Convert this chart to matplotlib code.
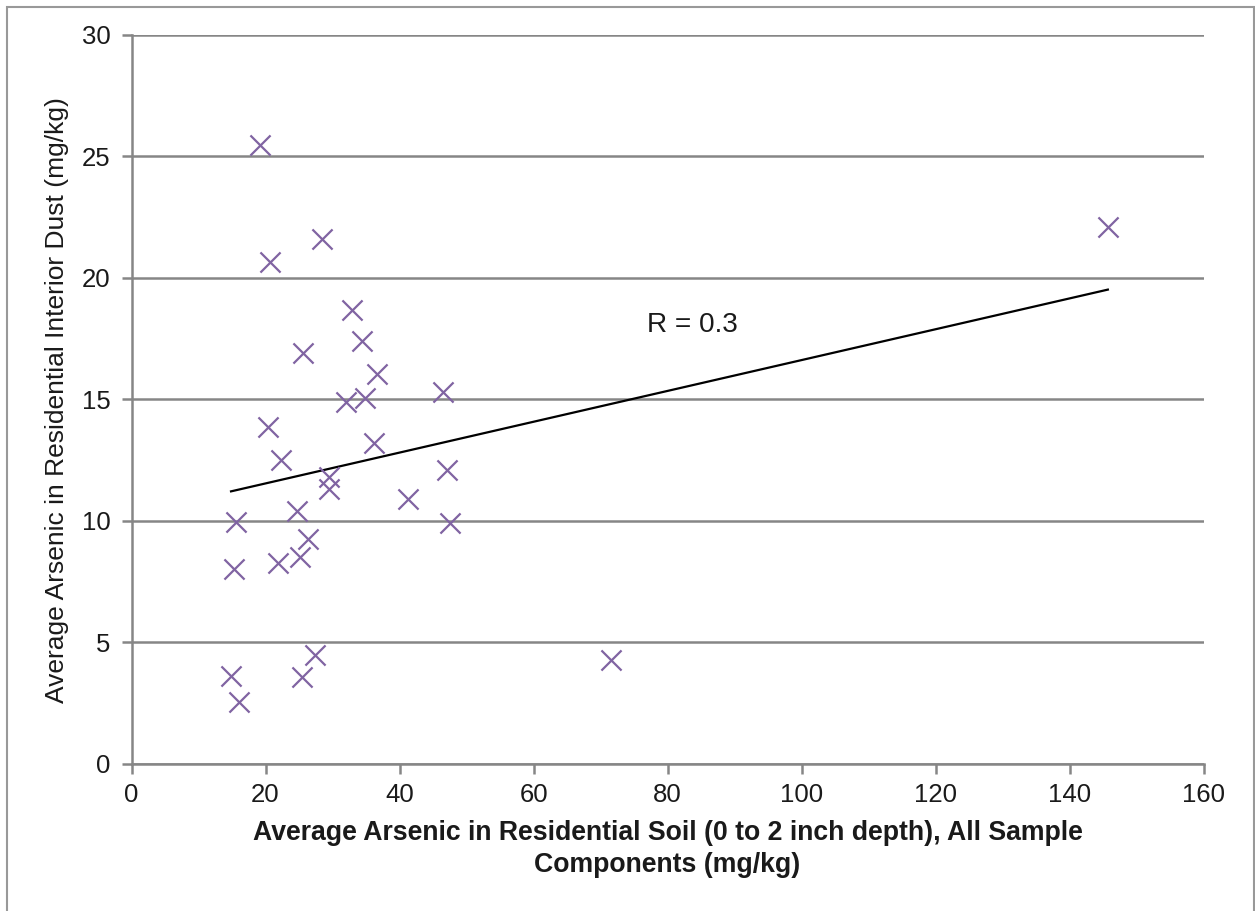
import numpy as np
import matplotlib.pyplot as plt
from matplotlib.patches import Rectangle

plt.rcParams["font.family"] = ["Liberation Sans", "DejaVu Sans"]

# soil arsenic (x) vs interior dust arsenic (y), mg/kg
soil = [19.2, 20.7, 28.4, 32.9, 34.4, 25.6, 36.6, 46.5, 32.0, 34.9,
        20.4, 36.2, 22.3, 47.1, 29.5, 29.5, 41.3, 24.7, 15.6, 47.5,
        26.3, 25.1, 21.9, 15.3, 27.4, 14.85, 25.4, 16.0, 71.6, 145.7]
dust = [25.47, 20.66, 21.6, 18.7, 17.4, 16.9, 16.05, 15.3, 14.9, 15.06,
        13.87, 13.2, 12.5, 12.1, 11.8, 11.3, 10.9, 10.4, 9.96, 9.92,
        9.26, 8.52, 8.27, 8.02, 4.49, 3.62, 3.58, 2.55, 4.28, 22.1]
x_ticks = [0, 20, 40, 60, 80, 100, 120, 140, 160]
y_ticks = [0, 5, 10, 15, 20, 25, 30]

grid_col = "#868686"
purple = "#8064A2"
txt = "#1a1a1a"

fig = plt.figure(figsize=(12.55, 9.11), dpi=100)
ax = fig.add_axes([0.1048, 0.1614, 0.8543, 0.8002])

# outer frame (bottom edge falls off the image)
fig.patches.append(Rectangle((7 / 1255, -0.02), 1247 / 1255, 1.02 - 7 / 911,
                             transform=fig.transFigure, fill=False,
                             edgecolor="#999999", linewidth=1.5))

ax.scatter(soil, dust, marker="x", s=210, color=purple, linewidths=1.6, zorder=3)

# linear trend line over the data range
xs = np.array(soil)
slope, icpt = np.polyfit(xs, np.array(dust), 1)
xl = np.array([xs.min(), xs.max()])
ax.plot(xl, slope * xl + icpt, color="black", linewidth=1.6, zorder=2)
ax.text(76.9, 18.05, "R = 0.3", fontsize=20.2, va="center", ha="left", color=txt)

ax.set_xlim(0, 160)
ax.set_ylim(0, 30)
ax.set_xticks(x_ticks)
ax.set_yticks(y_ticks)
ax.yaxis.grid(True, color=grid_col, linewidth=1.8)
ax.set_axisbelow(True)
for s in ["top", "right"]:
    ax.spines[s].set_visible(False)
for s in ["left", "bottom"]:
    ax.spines[s].set_color(grid_col)
    ax.spines[s].set_linewidth(1.8)
ax.tick_params(axis="both", direction="out", length=7, width=1.8,
               color=grid_col, labelsize=18.5, labelcolor=txt)
ax.tick_params(axis="x", pad=7)
ax.tick_params(axis="y", pad=8)

ax.set_xlabel("Average Arsenic in Residential Soil (0 to 2 inch depth), All Sample\nComponents (mg/kg)",
              fontsize=19.2, fontweight="bold", color=txt, labelpad=9, linespacing=1.28)
fig.text(57 / 1255, 1 - 400 / 911, "Average Arsenic in Residential Interior Dust (mg/kg)",
         rotation=90, fontsize=19, color=txt, ha="center", va="center")

fig.savefig("out.png", dpi=100)
